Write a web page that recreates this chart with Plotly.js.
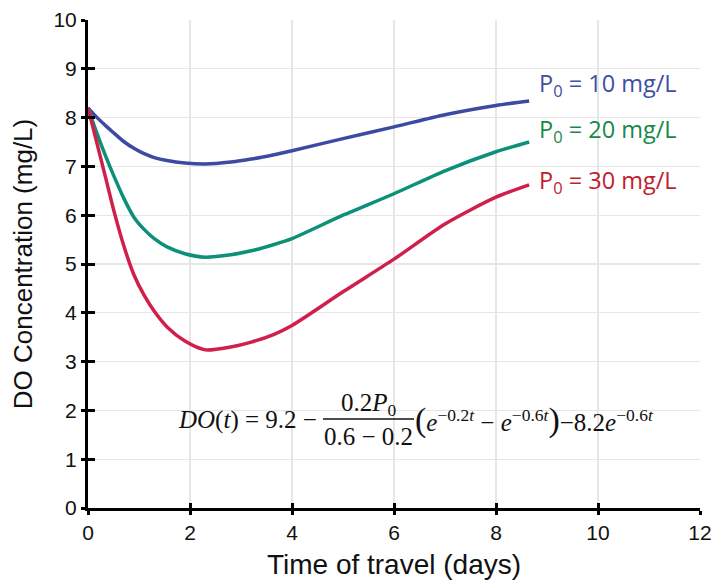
<!DOCTYPE html>
<html>
<head>
<meta charset="utf-8">
<script src="https://cdn.plot.ly/plotly-3.0.1.min.js"></script>
<style>html,body{margin:0;padding:0;background:#fff;}#chart{width:711px;height:582px;}</style>
</head>
<body>
<div id="chart"></div>
<script>
// Time of travel (days)
const t = [0, 0.15, 0.35, 0.5, 0.7, 0.9, 1.1, 1.3, 1.55, 1.9, 2.3, 2.8, 3.2, 3.65, 4.0, 5.0, 6.0, 7.0, 8.0, 8.65];
// DO concentration (mg/L) for each initial P0
const doP10 = [8.2, 8.03, 7.83, 7.69, 7.51, 7.37, 7.26, 7.18, 7.12, 7.07, 7.05, 7.09, 7.15, 7.24, 7.32, 7.57, 7.81, 8.06, 8.25, 8.34];
const doP20 = [8.2, 7.75, 7.20, 6.82, 6.35, 5.96, 5.71, 5.52, 5.35, 5.21, 5.14, 5.19, 5.27, 5.40, 5.52, 6.00, 6.44, 6.91, 7.30, 7.50];
const doP30 = [8.2, 7.58, 6.75, 6.12, 5.38, 4.78, 4.36, 4.03, 3.71, 3.42, 3.24, 3.30, 3.40, 3.56, 3.74, 4.43, 5.10, 5.82, 6.37, 6.62];
const seriesNames = ['P<sub>0</sub> = 10 mg/L', 'P<sub>0</sub> = 20 mg/L', 'P<sub>0</sub> = 30 mg/L'];
const xTicks = [0, 2, 4, 6, 8, 10, 12];
const yTicks = [0, 1, 2, 3, 4, 5, 6, 7, 8, 9, 10];

const lineColors = ['#3c4ba1', '#0c9078', '#d11f4b'];
const textColors = ['#3d50a3', '#16894a', '#bf1e2e'];
const series = [doP10, doP20, doP30];

const traces = series.map((y, i) => ({
  x: t, y: y, type: 'scatter', mode: 'lines', name: seriesNames[i],
  line: {color: lineColors[i], width: 3.5, shape: 'spline', smoothing: 0.7},
  hoverinfo: 'skip', showlegend: false
}));

// plot area in pixels: left 88, right 700, top 20, bottom 508
const L = 88, R = 700, T = 20, B = 508;
const px = v => (v - L) / (R - L);
const py = v => (B - v) / (B - T);

const labelY = [84, 130, 181];
const annotations = seriesNames.map((s, i) => ({
  xref: 'paper', yref: 'paper', x: px(537), y: py(labelY[i]),
  xanchor: 'left', yanchor: 'middle', showarrow: false, text: s,
  font: {family: 'Open Sans', size: 23.5, color: textColors[i]}
}));

const serif = {family: 'Liberation Serif', size: 25, color: '#111'};
annotations.push(
  {xref: 'paper', yref: 'paper', x: px(319), y: py(420), xanchor: 'right', yanchor: 'middle', showarrow: false,
   text: '<i>DO</i>(<i>t</i>) = 9.2 −', font: serif},
  {xref: 'paper', yref: 'paper', x: px(369), y: py(404), xanchor: 'center', yanchor: 'middle', showarrow: false,
   text: '0.2<i>P</i><sub>0</sub>', font: serif},
  {xref: 'paper', yref: 'paper', x: px(368), y: py(436), xanchor: 'center', yanchor: 'middle', showarrow: false,
   text: '0.6 − 0.2', font: serif},
  {xref: 'paper', yref: 'paper', x: px(413), y: py(420), xanchor: 'left', yanchor: 'middle', showarrow: false,
   text: '<span style="font-size:34px">(</span><i>e</i><sup>−0.2<i>t</i></sup> − <i>e</i><sup>−0.6<i>t</i></sup><span style="font-size:34px">)</span>−8.2<i>e</i><sup>−0.6<i>t</i></sup>',
   font: serif}
);

const axisCommon = {
  showline: true, linecolor: '#000', linewidth: 3,
  gridcolor: '#e6e6e6', gridwidth: 1.2, zeroline: false,
  ticks: 'outside', ticklen: 4, tickwidth: 3, tickcolor: '#000',
  ticklabeloverflow: 'allow',
  tickfont: {family: 'Liberation Sans', size: 21, color: '#111'}
};

const layout = {
  width: 711, height: 582,
  margin: {l: L, r: 711 - R, t: T, b: 582 - B},
  paper_bgcolor: '#fff', plot_bgcolor: '#fff',
  xaxis: Object.assign({}, axisCommon, {
    range: [0, 12], tickvals: xTicks, ticktext: xTicks.map(String),
    title: {text: 'Time of travel (days)', font: {family: 'Liberation Sans', size: 28, color: '#111'}, standoff: 12}
  }),
  yaxis: Object.assign({}, axisCommon, {
    range: [0, 10], tickvals: yTicks, ticktext: yTicks.map(String),
    title: {text: 'DO Concentration (mg/L)', font: {family: 'Liberation Sans', size: 26, color: '#111'}, standoff: 14}
  }),
  xaxis2: {overlaying: 'x', anchor: 'y', side: 'bottom', range: [0, 12], tickvals: xTicks,
    showticklabels: false, showgrid: false, showline: false, zeroline: false,
    ticks: 'inside', ticklen: 5, tickwidth: 3, tickcolor: '#000'},
  yaxis2: {overlaying: 'y', anchor: 'x', side: 'left', range: [0, 10], tickvals: yTicks,
    showticklabels: false, showgrid: false, showline: false, zeroline: false,
    ticks: 'inside', ticklen: 7, tickwidth: 3, tickcolor: '#000'},
  shapes: [
    {type: 'line', xref: 'paper', yref: 'paper', x0: px(323), x1: px(414), y0: py(419), y1: py(419),
     line: {color: '#111', width: 1.3}}
  ],
  annotations: annotations,
  showlegend: false
};

// invisible trace to activate the overlay axes
traces.push({x: [0], y: [0], xaxis: 'x2', yaxis: 'y2', mode: 'markers', marker: {opacity: 0}, hoverinfo: 'skip', showlegend: false});

Plotly.newPlot('chart', traces, layout, {displayModeBar: false, staticPlot: true});
</script>
</body>
</html>
